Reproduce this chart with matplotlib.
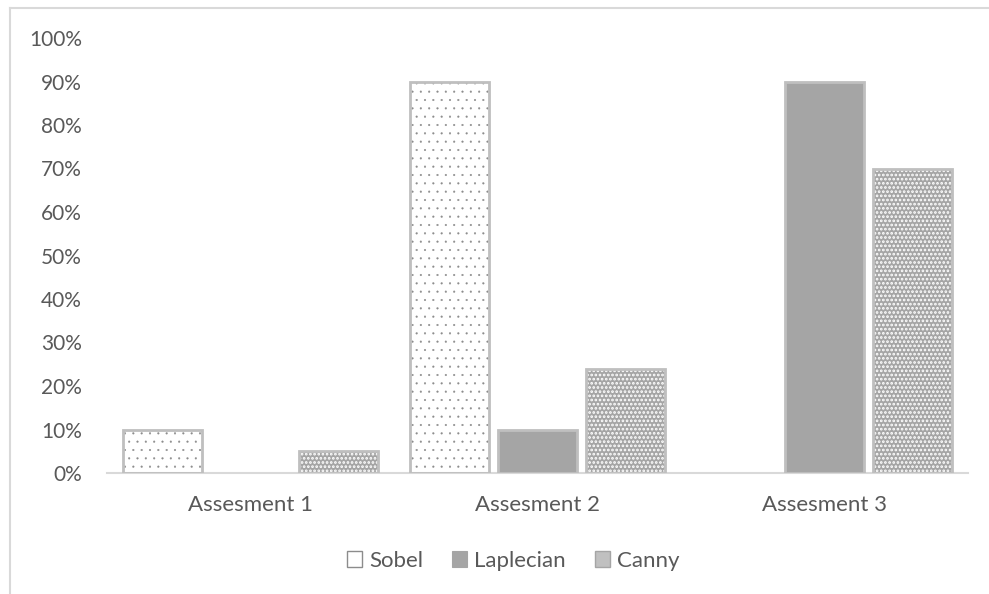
import matplotlib
matplotlib.use("Agg")
import matplotlib.pyplot as plt
from matplotlib.lines import Line2D
from matplotlib.patches import Patch
import numpy as np

plt.rcParams['font.family'] = ['Lato', 'DejaVu Sans']

categories = ["Assesment 1", "Assesment 2", "Assesment 3"]
series_names = ["Sobel", "Laplecian", "Canny"]
sobel = [0.10, 0.90, 0.0]
laplecian = [0.0, 0.10, 0.90]
canny = [0.05, 0.24, 0.70]

text_color = "#595959"
edge_gray = "#bfbfbf"
fill_gray = "#a5a5a5"
dot_gray = "#8c8c8c"

W, H = 989, 594
fig = plt.figure(figsize=(W / 100, H / 100), dpi=100)
ax = fig.add_axes([107 / W, 1 - 473 / H, 861 / W, (473 - 38) / H])

x = np.arange(len(categories))
bw = 0.275
step = 0.307


def edges(vals):
    return [edge_gray if v > 0 else "none" for v in vals]


# Sobel: white with sparse gray dots
plt.rcParams['hatch.linewidth'] = 0.3
ax.bar(x - step, sobel, bw, color="white", edgecolor=dot_gray, hatch="..", linewidth=0, zorder=2)
ax.bar(x - step, sobel, bw, color="none", edgecolor=edges(sobel), linewidth=2, zorder=3)
# Laplecian: solid gray
ax.bar(x, laplecian, bw, color=fill_gray, edgecolor=edges(laplecian), linewidth=2, zorder=3)
# Canny: gray with dense white dots
plt.rcParams['hatch.linewidth'] = 1.3
ax.bar(x + step, canny, bw, color=fill_gray, edgecolor="white", hatch="....", linewidth=0, zorder=2)
ax.bar(x + step, canny, bw, color="none", edgecolor=edges(canny), linewidth=2, zorder=3)

ax.set_xlim(-0.5, 2.5)
ax.set_ylim(0, 1.0)
ticks = np.arange(0, 1.01, 0.1)
ax.set_yticks(ticks)
ax.set_yticklabels([f"{int(round(v * 100))}%" for v in ticks])
ax.set_xticks(x)
ax.set_xticklabels(categories, fontsize=16)
for s in ["top", "right", "left"]:
    ax.spines[s].set_visible(False)
ax.spines["bottom"].set_color("#d9d9d9")
ax.spines["bottom"].set_linewidth(1.5)
ax.tick_params(axis="both", length=0, colors=text_color)
ax.tick_params(axis="y", labelsize=15, pad=18)
ax.tick_params(axis="x", labelsize=16, pad=16)

# legend
handles = [
    Patch(facecolor="white", edgecolor="#8c8c8c", linewidth=1.0),
    Patch(facecolor=fill_gray, edgecolor=fill_gray, linewidth=0.8),
    Patch(facecolor="#c0c0c0", edgecolor=fill_gray, linewidth=1.0),
]
leg = fig.legend(handles, series_names, loc="center", bbox_to_anchor=(513 / W, 1 - 561 / H),
                 ncol=3, frameon=False, fontsize=16, handlelength=0.7, handleheight=0.7,
                 handletextpad=0.3, columnspacing=1.3, labelcolor=text_color)

# outer border (cropped chart frame)
fig.add_artist(Line2D([10 / W, 10 / W], [0, 1 - 8 / H], transform=fig.transFigure, color="#d9d9d9", linewidth=1.5))
fig.add_artist(Line2D([10 / W, 1], [1 - 8 / H, 1 - 8 / H], transform=fig.transFigure, color="#d9d9d9", linewidth=1.5))

fig.savefig("out.png", dpi=100)
